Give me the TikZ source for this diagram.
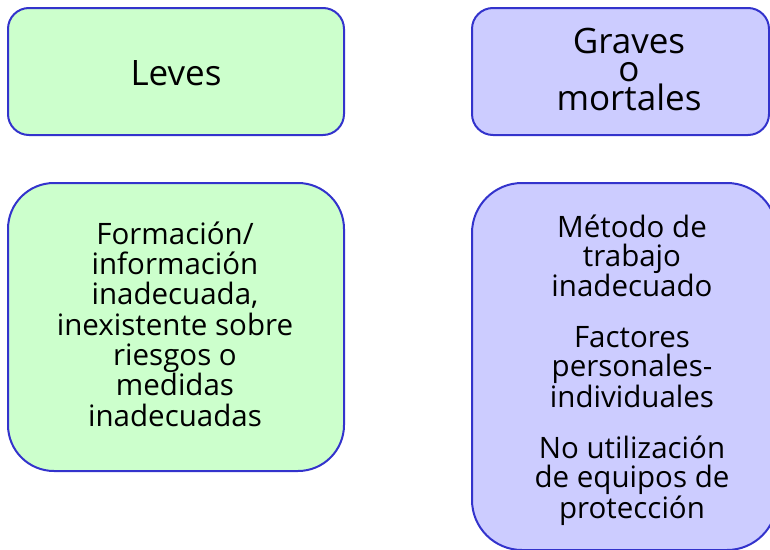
\documentclass[tikz,border=0pt]{standalone}
\usepackage{fontspec}
\setmainfont{Open Sans}
\definecolor{greenfill}{HTML}{CCFFCC}
\definecolor{lavfill}{HTML}{CCCCFF}
\definecolor{bordercol}{HTML}{3333CC}
\begin{document}
\begin{tikzpicture}[x=1pt,y=-1pt,
  box/.style={draw=bordercol, line width=2pt, rectangle, inner sep=0pt, outer sep=0pt},
  lvbox/.style={box, fill=greenfill},
  gvbox/.style={box, fill=lavfill},
  txt/.style={align=center, inner sep=0pt, text=black}]
\useasboundingbox (0,0) rectangle (770,549);
\clip (0,0) rectangle (770,549);
\node[lvbox, minimum width=336pt, minimum height=127pt, rounded corners=21pt] (levesbox) at (176,71.5) {};
\node[gvbox, minimum width=297pt, minimum height=127pt, rounded corners=21pt] (gravesbox) at (620.5,71.5) {};
\node[lvbox, minimum width=336pt, minimum height=288pt, rounded corners=46pt] (causabox) at (176,327) {};
\node[gvbox, minimum width=305pt, minimum height=367pt, rounded corners=50pt] (causbbox) at (624.5,366.5) {};
\node[txt, font=\fontsize{35}{40}\selectfont, anchor=base] (leves) at (176,85) {Leves};
\node[txt, font=\fontsize{35}{28.5}\selectfont, anchor=base] (graves) at (629,110) {Graves\\o\\mortales};
\node[txt, font=\fontsize{29.5}{30.3}\selectfont, anchor=base] (causasa) at (175,426) {Formación/\\información\\inadecuada,\\inexistente sobre\\riesgos o\\medidas\\inadecuadas};
\node[txt, font=\fontsize{29.5}{29}\selectfont, anchor=base] (causasb) at (632,518) {Método de\\trabajo\\inadecuado\\[22pt]Factores\\personales-\\individuales\\[22pt]No utilización\\de equipos de\\protección};
\end{tikzpicture}
\end{document}
